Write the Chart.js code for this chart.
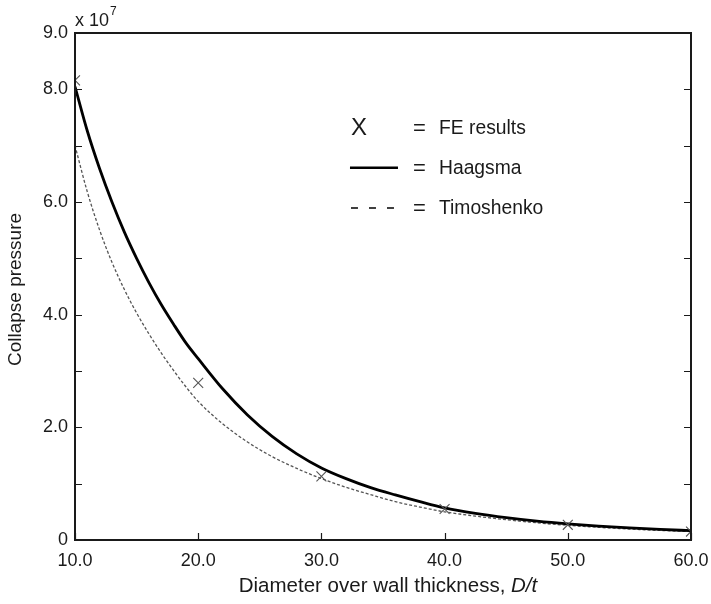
<!DOCTYPE html>
<html>
<head>
<meta charset="utf-8">
<script src="https://cdn.jsdelivr.net/npm/chart.js@4/dist/chart.umd.min.js"></script>
<style>
  html, body { margin: 0; padding: 0; background: #fff; }
  #wrap { width: 711px; height: 604px; }
</style>
</head>
<body>
<div id="wrap"><canvas id="c" width="711" height="604"></canvas></div>
<script>
// ---- data (collapse pressure in units of 1e7) ----
const D_FE = [10, 20, 30, 40, 50, 60];
const FE_RESULTS = [8.16, 2.79, 1.13, 0.55, 0.27, 0.15];

const D_CURVE = [10, 11, 12, 13, 14, 15, 16, 17, 18, 19, 20, 22, 24, 26, 28, 30, 32, 34, 36, 38, 40, 42.5, 45, 47.5, 50, 52.5, 55, 57.5, 60];
const HAAGSMA = [8.05, 7.26, 6.59, 6.00, 5.47, 5.00, 4.57, 4.18, 3.83, 3.50, 3.22, 2.68, 2.22, 1.84, 1.53, 1.28, 1.09, 0.93, 0.80, 0.68, 0.57, 0.473, 0.397, 0.336, 0.287, 0.247, 0.215, 0.188, 0.166];
const TIMOSHENKO = [7.00, 6.18, 5.50, 4.93, 4.45, 4.03, 3.66, 3.32, 3.01, 2.72, 2.46, 2.06, 1.74, 1.48, 1.27, 1.09, 0.936, 0.804, 0.68, 0.585, 0.50, 0.425, 0.36, 0.305, 0.26, 0.225, 0.195, 0.17, 0.15];

const X_TICKS = [10, 20, 30, 40, 50, 60];
const Y_MINOR_TICKS = [0, 1, 2, 3, 4, 5, 6, 7, 8, 9];
const Y_LABELED = [0, 2, 4, 6, 8, 9];

const LEGEND_ITEMS = ['FE results', 'Haagsma', 'Timoshenko'];
const X_TITLE = 'Diameter over wall thickness, ';
const X_TITLE_ITALIC = 'D/t';
const Y_TITLE = 'Collapse pressure';

const FONT = '"Liberation Sans", Arial, Helvetica, sans-serif';
const INK = '#1a1a1a';

const toPts = (xs, ys) => xs.map((x, i) => ({ x: x, y: ys[i] }));

const decor = {
  id: 'decor',
  afterDraw(chart) {
    const ctx = chart.ctx;
    const a = chart.chartArea;
    const xs = chart.scales.x, ys = chart.scales.y;
    ctx.save();
    // frame
    ctx.strokeStyle = INK;
    ctx.lineWidth = 2;
    ctx.strokeRect(a.left, a.top, a.right - a.left, a.bottom - a.top);
    // inward ticks
    ctx.lineWidth = 1.2;
    ctx.beginPath();
    Y_MINOR_TICKS.forEach(v => {
      const y = Math.round(ys.getPixelForValue(v)) + 0.5;
      ctx.moveTo(a.left, y); ctx.lineTo(a.left + 7, y);
      ctx.moveTo(a.right, y); ctx.lineTo(a.right - 7, y);
    });
    X_TICKS.forEach(v => {
      const x = Math.round(xs.getPixelForValue(v)) + 0.5;
      ctx.moveTo(x, a.bottom); ctx.lineTo(x, a.bottom - 7);
    });
    ctx.stroke();

    // x 10^7
    ctx.fillStyle = INK;
    ctx.textBaseline = 'alphabetic';
    ctx.textAlign = 'left';
    ctx.font = '18px ' + FONT;
    ctx.fillText('x 10', a.left, a.top - 7);
    const w10 = ctx.measureText('x 10').width;
    ctx.font = '12px ' + FONT;
    ctx.fillText('7', a.left + w10 + 1, a.top - 18);

    // y title
    ctx.save();
    ctx.translate(16, (a.top + a.bottom) / 2 + 3);
    ctx.rotate(-Math.PI / 2);
    ctx.font = '19px ' + FONT;
    ctx.textAlign = 'center';
    ctx.textBaseline = 'middle';
    ctx.fillText(Y_TITLE, 0, 0);
    ctx.restore();

    // x title
    ctx.font = '20.5px ' + FONT;
    const w1 = ctx.measureText(X_TITLE).width;
    ctx.font = 'italic 20.5px ' + FONT;
    const w2 = ctx.measureText(X_TITLE_ITALIC).width;
    const cx = (a.left + a.right) / 2 + 5;
    const x0 = cx - (w1 + w2) / 2;
    ctx.textAlign = 'left';
    ctx.textBaseline = 'alphabetic';
    ctx.font = '20.5px ' + FONT;
    ctx.fillText(X_TITLE, x0, 592);
    ctx.font = 'italic 20.5px ' + FONT;
    ctx.fillText(X_TITLE_ITALIC, x0 + w1, 592);

    // legend
    const W = a.right - a.left, H = a.bottom - a.top;
    const lx = a.left + W * 0.4464;      // symbol left
    const ex = a.left + W * 0.5487;      // '=' left
    const tx = a.left + W * 0.5909;      // text left
    const rows = [a.top + H * 0.187, a.top + H * 0.266, a.top + H * 0.345];
    ctx.textBaseline = 'middle';
    // X symbol
    ctx.font = '24px ' + FONT;
    ctx.fillText('X', lx + 1, rows[0] + 1);
    // solid line
    ctx.strokeStyle = '#000';
    ctx.lineWidth = 2.5;
    ctx.setLineDash([]);
    ctx.beginPath(); ctx.moveTo(lx, rows[1]); ctx.lineTo(lx + 48, rows[1]); ctx.stroke();
    // dashed line
    ctx.lineWidth = 1.5;
    ctx.setLineDash([7, 11]);
    ctx.beginPath(); ctx.moveTo(lx + 1, rows[2]); ctx.lineTo(lx + 48, rows[2]); ctx.stroke();
    ctx.setLineDash([]);
    rows.forEach((ry, i) => {
      ctx.font = '22px ' + FONT;
      ctx.fillText('=', ex, ry + 1);
      ctx.font = '19.3px ' + FONT;
      ctx.fillText(LEGEND_ITEMS[i], tx, ry + 1);
    });
    ctx.restore();
  }
};

new Chart(document.getElementById('c'), {
  type: 'scatter',
  data: {
    datasets: [
      {
        label: 'Timoshenko',
        data: toPts(D_CURVE, TIMOSHENKO),
        showLine: true,
        borderColor: '#555',
        borderWidth: 1.3,
        borderDash: [3, 2],
        pointRadius: 0,
        cubicInterpolationMode: 'monotone',
        order: 3
      },
      {
        label: 'Haagsma',
        data: toPts(D_CURVE, HAAGSMA),
        showLine: true,
        borderColor: '#000',
        borderWidth: 2.8,
        pointRadius: 0,
        cubicInterpolationMode: 'monotone',
        order: 2
      },
      {
        label: 'FE results',
        data: toPts(D_FE, FE_RESULTS),
        showLine: false,
        pointStyle: 'crossRot',
        pointRadius: 7,
        pointBorderColor: '#555',
        pointBorderWidth: 1.1,
        order: 1
      }
    ]
  },
  options: {
    responsive: false,
    animation: false,
    layout: { padding: { left: 0, right: 20, top: 33, bottom: 0 } },
    plugins: { legend: { display: false }, tooltip: { enabled: false } },
    scales: {
      x: {
        type: 'linear',
        min: 10, max: 60,
        grid: { display: false, drawTicks: false },
        border: { display: false },
        ticks: {
          stepSize: 10,
          padding: 10,
          color: INK,
          font: { size: 18, family: FONT },
          callback: v => X_TICKS.includes(v) ? v.toFixed(1) : ''
        },
        afterFit: s => { s.height = 64; s.paddingLeft = 0; s.paddingRight = 0; }
      },
      y: {
        min: 0, max: 9,
        grid: { display: false, drawTicks: false },
        border: { display: false },
        ticks: {
          stepSize: 1,
          padding: 7,
          color: INK,
          font: { size: 18, family: FONT },
          callback: v => Y_LABELED.includes(v) ? (v === 0 ? '0' : v.toFixed(1)) : ''
        },
        afterFit: s => { s.width = 75; s.paddingTop = 0; s.paddingBottom = 0; }
      }
    }
  },
  plugins: [decor]
});
</script>
</body>
</html>
